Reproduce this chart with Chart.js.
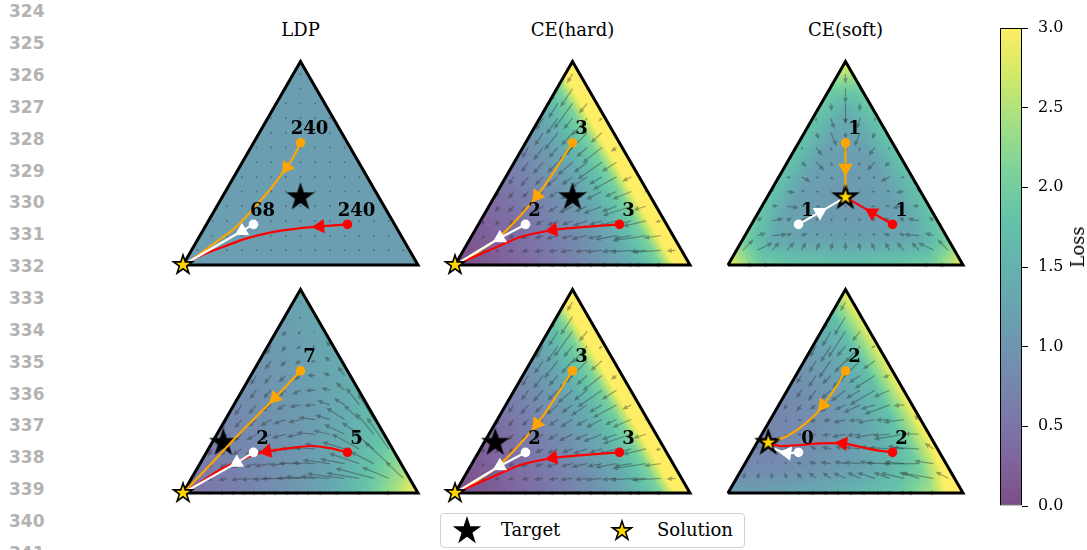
<!DOCTYPE html>
<html>
<head>
<meta charset="utf-8">
<title>Loss landscapes on the probability simplex</title>
<script src="https://cdn.jsdelivr.net/npm/chart.js@4.4.1/dist/chart.umd.min.js"></script>
<style>
  html, body { margin: 0; padding: 0; background: #fff; }
  #fig { position: relative; width: 1087px; height: 550px; overflow: hidden; background: #fff;
         font-family: "DejaVu Serif", serif; color: #000; }
  #fig canvas { position: absolute; }
  .lineno { position: absolute; left: 9px; height: 20px; line-height: 20px;
            font: bold 17px "DejaVu Sans", sans-serif; color: #b3b3b3; }
  .title { position: absolute; top: 19px; height: 22px; line-height: 22px; font-size: 18px;
           transform: translateX(-50%); white-space: nowrap; }
  #cbLabel { position: absolute; left: 1078px; top: 247px; font-size: 18px; line-height: 20px;
             transform: translate(-50%, -50%) rotate(-90deg); white-space: nowrap; }
  #legend { position: absolute; left: 440px; top: 513px; width: 305px; height: 35px; box-sizing: border-box;
            border: 1.5px solid #d0d0d0; border-radius: 4px; background: #fff; }
  #legend span { position: absolute; top: 5px; line-height: 22px; font-size: 18px; white-space: nowrap; }
  #legend canvas { position: absolute; }
</style>
</head>
<body>
<div id="fig"></div>
<script>
// ---------------------------------------------------------------------------
// Data
// ---------------------------------------------------------------------------
const methods = ['LDP', 'CE(hard)', 'CE(soft)'];
const lineNumbers = [324, 325, 326, 327, 328, 329, 330, 331, 332, 333, 334, 335, 336, 337, 338, 339, 340, 341];
const lossTicks = [0.0, 0.5, 1.0, 1.5, 2.0, 2.5, 3.0];
const lossMin = 0, lossMax = 3;
const legendLabels = ['Target', 'Solution'];

// simplex corners as probability vectors (p1, p2, p3)
const simplexCorners = [[1, 0, 0], [0, 1, 0], [0, 0, 1]];
const targetTop = [1 / 3, 1 / 3, 1 / 3];
const targetBottom = [0.705, 0.048, 0.247];
// panels: 0-2 top row (LDP, CE(hard), CE(soft)), 3-5 bottom row
const targets = [targetTop, targetTop, targetTop, targetBottom, targetBottom, targetBottom];
const solutions = [[1, 0, 0], [1, 0, 0], targetTop, [1, 0, 0], [1, 0, 0], targetBottom];

// Loss on a triangular lattice (8 subdivisions): row j has p3 = j/8,
// entries run from the p1 corner side (p2 = 0) to the p2 side.
const lossLDPTop = [
  [1.15, 1.15, 1.15, 1.15, 1.15, 1.15, 1.15, 1.15, 1.15],
  [1.15, 1.15, 1.15, 1.15, 1.15, 1.15, 1.15, 1.15],
  [1.15, 1.15, 1.15, 1.15, 1.15, 1.15, 1.15],
  [1.15, 1.15, 1.15, 1.15, 1.15, 1.15],
  [1.15, 1.15, 1.15, 1.15, 1.15],
  [1.15, 1.15, 1.15, 1.15],
  [1.15, 1.15, 1.15],
  [1.15, 1.15],
  [1.15]
];
const lossCEHardTop = [
  [0.00, 0.13, 0.29, 0.47, 0.69, 0.98, 1.39, 2.08, 4.00],
  [0.13, 0.29, 0.47, 0.69, 0.98, 1.39, 2.08, 4.00],
  [0.29, 0.47, 0.69, 0.98, 1.39, 2.08, 4.00],
  [0.47, 0.69, 0.98, 1.39, 2.08, 4.00],
  [0.69, 0.98, 1.39, 2.08, 4.00],
  [0.98, 1.39, 2.08, 4.00],
  [1.39, 2.08, 4.00],
  [2.08, 4.00],
  [4.00]
];
const lossCESoftTop = [
  [2.90, 2.05, 1.90, 1.84, 1.82, 1.84, 1.90, 2.05, 2.90],
  [2.05, 1.40, 1.26, 1.21, 1.21, 1.26, 1.40, 2.05],
  [1.90, 1.26, 1.12, 1.09, 1.12, 1.26, 1.90],
  [1.84, 1.21, 1.09, 1.09, 1.21, 1.84],
  [1.82, 1.21, 1.12, 1.21, 1.82],
  [1.84, 1.26, 1.26, 1.84],
  [1.90, 1.40, 1.90],
  [2.05, 2.05],
  [2.90]
];
const lossLDPBottom = [
  [0.45, 0.57, 0.70, 0.86, 1.08, 1.35, 1.74, 2.30, 3.00],
  [0.56, 0.67, 0.80, 0.97, 1.18, 1.46, 1.85, 2.40],
  [0.66, 0.78, 0.91, 1.07, 1.29, 1.57, 1.95],
  [0.77, 0.88, 1.02, 1.18, 1.39, 1.68],
  [0.88, 0.99, 1.12, 1.29, 1.50],
  [0.98, 1.10, 1.23, 1.40],
  [1.09, 1.20, 1.33],
  [1.19, 1.31],
  [1.30]
];
const lossCEHardBottom = [
  [0.00, 0.13, 0.29, 0.47, 0.69, 0.98, 1.39, 2.08, 4.00],
  [0.13, 0.29, 0.47, 0.69, 0.98, 1.39, 2.08, 4.00],
  [0.29, 0.47, 0.69, 0.98, 1.39, 2.08, 4.00],
  [0.47, 0.69, 0.98, 1.39, 2.08, 4.00],
  [0.69, 0.98, 1.39, 2.08, 4.00],
  [0.98, 1.39, 2.08, 4.00],
  [1.39, 2.08, 4.00],
  [2.08, 4.00],
  [4.00]
];
const lossCESoftBottom = [
  [1.17, 1.17, 1.25, 1.36, 1.50, 1.70, 1.97, 2.46, 3.74],
  [0.81, 0.83, 0.92, 1.06, 1.25, 1.53, 2.01, 3.30],
  [0.75, 0.79, 0.91, 1.09, 1.37, 1.85, 3.13],
  [0.77, 0.84, 1.01, 1.28, 1.76, 3.04],
  [0.86, 0.97, 1.23, 1.70, 2.98],
  [1.01, 1.21, 1.66, 2.94],
  [1.25, 1.65, 2.91],
  [1.71, 2.91],
  [2.96]
];
const lossGrids = [lossLDPTop, lossCEHardTop, lossCESoftTop, lossLDPBottom, lossCEHardBottom, lossCESoftBottom];

// Optimisation trajectories in simplex plane coordinates (x, y), one per panel.
const orangePaths = [
  [[0.5, 0.52], [0.468, 0.455], [0.441, 0.415], [0.379, 0.332], [0.306, 0.247], [0.221, 0.157], [0.123, 0.085], [0.03, 0.017], [0, 0]],
  [[0.5, 0.52], [0.426, 0.404], [0.349, 0.294], [0.277, 0.209], [0.179, 0.111], [0.085, 0.047], [0, 0]],
  [[0.5, 0.52], [0.5, 0.413], [0.5, 0.2887]],
  [[0.5, 0.52], [0.455, 0.472], [0.391, 0.404], [0.306, 0.319], [0.226, 0.238], [0.115, 0.119], [0, 0]],
  [[0.5, 0.52], [0.426, 0.404], [0.349, 0.294], [0.277, 0.209], [0.179, 0.111], [0.085, 0.047], [0, 0]],
  [[0.5, 0.52], [0.468, 0.464], [0.434, 0.413], [0.404, 0.374], [0.37, 0.332], [0.306, 0.277], [0.243, 0.238], [0.171, 0.214]]
];
const redPaths = [
  [[0.7, 0.173], [0.583, 0.164], [0.485, 0.155], [0.37, 0.138], [0.264, 0.111], [0.157, 0.072], [0.072, 0.038], [0, 0]],
  [[0.7, 0.173], [0.553, 0.162], [0.417, 0.149], [0.277, 0.119], [0.149, 0.064], [0, 0]],
  [[0.7, 0.173], [0.613, 0.223], [0.5, 0.2887]],
  [[0.7, 0.173], [0.626, 0.191], [0.54, 0.2], [0.455, 0.191], [0.357, 0.177], [0.285, 0.157], [0.157, 0.098], [0.051, 0.03], [0, 0]],
  [[0.7, 0.173], [0.553, 0.162], [0.417, 0.149], [0.277, 0.119], [0.149, 0.064], [0, 0]],
  [[0.7, 0.173], [0.604, 0.187], [0.489, 0.211], [0.391, 0.211], [0.306, 0.204], [0.221, 0.2], [0.171, 0.214]]
];
const whitePaths = [
  [[0.3, 0.173], [0.251, 0.145], [0, 0]],
  [[0.3, 0.173], [0.191, 0.115], [0, 0]],
  [[0.3, 0.173], [0.391, 0.225], [0.5, 0.2887]],
  [[0.3, 0.173], [0.229, 0.129], [0, 0]],
  [[0.3, 0.173], [0.191, 0.115], [0, 0]],
  [[0.3, 0.173], [0.251, 0.17], [0.2, 0.187], [0.171, 0.214]]
];
// index of the path vertex carrying the direction arrow
const orangeArrowAt = [2, 2, 1, 2, 2, 3];
const redArrowAt = [1, 2, 1, 4, 2, 2];
const whiteArrowAt = [1, 1, 1, 1, 1, 1];
// number of steps printed next to each starting point
const orangeSteps = [240, 3, 1, 7, 3, 2];
const redSteps = [240, 3, 1, 5, 3, 2];
const whiteSteps = [68, 2, 1, 2, 2, 0];

// ---------------------------------------------------------------------------
// Styling / layout
// ---------------------------------------------------------------------------
const SQ3 = Math.sqrt(3) / 2;
const SIDE = 235;       // px per unit side of the simplex
const PAD = 26;         // canvas margin around each simplex
const panelCorners = [[183, 265], [455, 265], [728, 265], [183, 493], [455, 493], [728, 493]];
const quiverGain = [0.1, 0.1, 0.12, 0.26, 0.1, 0.15];
const FIELD_ALPHA = 0.7;
const viridis = [
  [68, 1, 84], [72, 36, 117], [65, 68, 135], [53, 95, 141], [42, 120, 142], [33, 145, 140],
  [34, 168, 132], [68, 191, 112], [122, 209, 81], [189, 223, 38], [253, 231, 37]
];
const trajectories = [
  { color: '#ffa500', paths: orangePaths, arrowAt: orangeArrowAt, steps: orangeSteps },
  { color: '#ff0000', paths: redPaths, arrowAt: redArrowAt, steps: redSteps },
  { color: '#ffffff', paths: whitePaths, arrowAt: whiteArrowAt, steps: whiteSteps }
];

const toXY = p => ({ x: p[1] + p[2] / 2, y: p[2] * SQ3 });

function lossColor(v) {
  if (!Number.isFinite(v)) v = lossMin;
  const t = Math.max(0, Math.min(1, (v - lossMin) / (lossMax - lossMin))) * (viridis.length - 1);
  const i = Math.min(Math.floor(t), viridis.length - 2), f = t - i;
  const c0 = viridis[i], c1 = viridis[i + 1];
  return [0, 1, 2].map(k => Math.round((c0[k] + (c1[k] - c0[k]) * f) * FIELD_ALPHA + 255 * (1 - FIELD_ALPHA)));
}

// Gouraud shading of the lattice: linear within each small lattice triangle
function lossAt(rows, b, c) {
  const n = rows.length - 1;
  b = Math.max(0, Math.min(1, b)); c = Math.max(0, Math.min(1, c));
  if (b + c > 1) { const s = b + c; b /= s; c /= s; }
  const u = b * n, v = c * n;
  let i = Math.floor(u), j = Math.floor(v);
  if (j >= n) j = n - 1;
  if (j < 0) j = 0;
  if (i + j >= n) i = n - 1 - j;
  if (i < 0) i = 0;
  let fu = u - i, fv = v - j;
  if (fu + fv <= 1 || i + j >= n - 1) {
    const s = fu + fv;
    if (s > 1) { fu /= s; fv /= s; }
    return (1 - fu - fv) * rows[j][i] + fu * rows[j][i + 1] + fv * rows[j + 1][i];
  }
  return (fu + fv - 1) * rows[j + 1][i + 1] + (1 - fv) * rows[j][i + 1] + (1 - fu) * rows[j + 1][i];
}

function slope(rows, b, c, db, dc, h) {
  const inside = (bb, cc) => bb >= -1e-12 && cc >= -1e-12 && bb + cc <= 1 + 1e-12;
  let p1 = [b + db * h, c + dc * h], p0 = [b - db * h, c - dc * h];
  if (!inside(p1[0], p1[1])) p1 = [b, c];
  if (!inside(p0[0], p0[1])) p0 = [b, c];
  const d = (p1[0] - p0[0]) * db + (p1[1] - p0[1]) * dc;
  return d > 0 ? (lossAt(rows, p1[0], p1[1]) - lossAt(rows, p0[0], p0[1])) / d : 0;
}

function paintLoss(chart, rows) {
  const { left, top, right, bottom } = chart.chartArea;
  const xs = chart.scales.x, ys = chart.scales.y;
  const W = Math.round(right - left), H = Math.round(bottom - top);
  const off = document.createElement('canvas');
  off.width = W; off.height = H;
  const octx = off.getContext('2d');
  const img = octx.createImageData(W, H);
  for (let py = 0; py < H; py++) {
    const y = ys.getValueForPixel(top + py + 0.5);
    const c = y / SQ3;
    for (let px = 0; px < W; px++) {
      const x = xs.getValueForPixel(left + px + 0.5);
      const b = x - c / 2, a = 1 - b - c;
      if (a < -0.004 || b < -0.004 || c < -0.004) continue;
      const col = lossColor(lossAt(rows, b, c));
      const k = (py * W + px) * 4;
      img.data[k] = col[0]; img.data[k + 1] = col[1]; img.data[k + 2] = col[2]; img.data[k + 3] = 255;
    }
  }
  octx.putImageData(img, 0, 0);
  chart.ctx.drawImage(off, left, top);
}

// descent directions of the loss under the softmax parameterisation
function drawQuiver(chart, rows, gain) {
  const ctx = chart.ctx, xs = chart.scales.x, ys = chart.scales.y;
  const N = 16, h = 0.004, sw = 0.6, hwMax = 2.4, hlMax = 5.5;
  ctx.save();
  ctx.fillStyle = 'rgba(45,45,45,0.4)';
  for (let r = 0; r / N <= SQ3; r++) {
    const y = r / N;
    for (let k = 0; k <= N; k++) {
      const x = k / N;
      const c = y / SQ3, b = x - c / 2, a = 1 - b - c;
      if (a < -1e-9 || b < -1e-9 || c < -1e-9) continue;
      const gb = slope(rows, b, c, 1, 0, h), gc = slope(rows, b, c, 0, 1, h);
      const pg = b * gb + c * gc;
      const vb = -b * (gb - pg), vc = -c * (gc - pg);
      const vx = vb + vc / 2, vy = vc * SQ3;
      const X0 = xs.getPixelForValue(x), Y0 = ys.getPixelForValue(y);
      const X1 = xs.getPixelForValue(x + vx * gain), Y1 = ys.getPixelForValue(y + vy * gain);
      const dx = X1 - X0, dy = Y1 - Y0, len = Math.hypot(dx, dy);
      if (!Number.isFinite(len)) continue;
      ctx.beginPath();
      if (len < 1.2) {
        ctx.arc(X0, Y0, 1.0, 0, Math.PI * 2);
        ctx.fill();
        continue;
      }
      const ux = dx / len, uy = dy / len, nx = -uy, ny = ux;
      const hl = Math.min(hlMax, len * 0.75), hw = Math.min(hwMax, hl * 0.45);
      const bx = X1 - ux * hl, by = Y1 - uy * hl;
      ctx.moveTo(X0 + nx * sw, Y0 + ny * sw);
      ctx.lineTo(bx + nx * sw, by + ny * sw);
      ctx.lineTo(bx + nx * hw, by + ny * hw);
      ctx.lineTo(X1, Y1);
      ctx.lineTo(bx - nx * hw, by - ny * hw);
      ctx.lineTo(bx - nx * sw, by - ny * sw);
      ctx.lineTo(X0 - nx * sw, Y0 - ny * sw);
      ctx.closePath();
      ctx.fill();
    }
  }
  ctx.restore();
}

function drawStepLabels(chart, p) {
  const ctx = chart.ctx, xs = chart.scales.x, ys = chart.scales.y;
  ctx.save();
  ctx.font = 'bold 18px "DejaVu Serif"';
  ctx.fillStyle = '#000';
  ctx.textAlign = 'center';
  ctx.textBaseline = 'middle';
  trajectories.forEach(t => {
    const s = t.paths[p][0];
    ctx.fillText(String(t.steps[p]), xs.getPixelForValue(s[0]) + 9, ys.getPixelForValue(s[1]) - 13);
  });
  ctx.restore();
}

const simplexPlugin = {
  id: 'simplexField',
  beforeDatasetsDraw(chart, args, opts) {
    const rows = lossGrids[opts.panel];
    paintLoss(chart, rows);
    drawQuiver(chart, rows, quiverGain[opts.panel]);
  },
  afterDatasetsDraw(chart, args, opts) {
    drawStepLabels(chart, opts.panel);
  }
};

function starCanvas(R, fill, stroke, lw) {
  const s = Math.ceil(2 * R + lw + 4);
  const cv = document.createElement('canvas');
  cv.width = s; cv.height = s;
  const c = cv.getContext('2d');
  c.beginPath();
  for (let k = 0; k < 10; k++) {
    const ang = -Math.PI / 2 + k * Math.PI / 5;
    const r = k % 2 === 0 ? R : R * 0.381966;
    const px = s / 2 + r * Math.cos(ang), py = s / 2 + r * Math.sin(ang);
    if (k === 0) c.moveTo(px, py); else c.lineTo(px, py);
  }
  c.closePath();
  c.fillStyle = fill;
  c.fill();
  if (lw > 0) { c.lineWidth = lw; c.strokeStyle = stroke; c.lineJoin = 'miter'; c.stroke(); }
  return cv;
}
const targetStar = starCanvas(15, '#000000', '#000000', 0);
const solutionStar = starCanvas(10, '#ffd700', '#000000', 1.6);

// ---------------------------------------------------------------------------
// Page
// ---------------------------------------------------------------------------
const fig = document.getElementById('fig');

lineNumbers.forEach((n, k) => {
  const d = document.createElement('div');
  d.className = 'lineno';
  d.style.top = (11.2 + 31.86 * k - 10) + 'px';
  d.textContent = n;
  fig.appendChild(d);
});

methods.forEach((m, k) => {
  const d = document.createElement('div');
  d.className = 'title';
  d.style.left = (panelCorners[k][0] + SIDE / 2) + 'px';
  d.textContent = m;
  fig.appendChild(d);
});

function panelDatasets(p) {
  const sets = [];
  sets.push({
    data: simplexCorners.concat([simplexCorners[0]]).map(q => toXY(q)),
    showLine: true, borderColor: '#000', borderWidth: 3, borderJoinStyle: 'miter',
    pointRadius: 0, order: 30, clip: false
  });
  sets.push({ data: [toXY(targets[p])], pointStyle: targetStar, pointRadius: 12, order: 25, clip: false });
  trajectories.forEach((t, k) => {
    const path = t.paths[p];
    const ai = t.arrowAt[p];
    const prev = path[ai - 1], next = path[Math.min(ai + 1, path.length - 1)];
    sets.push({
      data: path.map(q => ({ x: q[0], y: q[1] })),
      showLine: true, borderColor: t.color, borderWidth: 2.2, pointRadius: 0, tension: 0.2,
      borderCapStyle: 'round', order: 20 - k, clip: false
    });
    sets.push({
      data: [{ x: path[0][0], y: path[0][1] }],
      pointRadius: 4.8, backgroundColor: t.color, borderWidth: 0, order: 15 - k, clip: false
    });
    sets.push({
      data: [{ x: path[ai][0], y: path[ai][1] }],
      pointStyle: 'triangle', pointRadius: 8.3, backgroundColor: t.color, borderWidth: 0,
      order: 15 - k, clip: false,
      rotation: ctx => {
        const xs = ctx.chart.scales.x, ys = ctx.chart.scales.y;
        if (!xs || !ys) return 0;
        const dx = xs.getPixelForValue(next[0]) - xs.getPixelForValue(prev[0]);
        const dy = ys.getPixelForValue(next[1]) - ys.getPixelForValue(prev[1]);
        return Math.atan2(dx, -dy) * 180 / Math.PI;
      }
    });
  });
  sets.push({ data: [toXY(solutions[p])], pointStyle: solutionStar, pointRadius: 9, order: 1, clip: false });
  return sets;
}

panelCorners.forEach(([ox, oy], p) => {
  const top = Math.round(oy - SQ3 * SIDE - PAD);
  const W = SIDE + 2 * PAD, H = oy + PAD - top;
  const cv = document.createElement('canvas');
  cv.width = W; cv.height = H;
  cv.style.left = (ox - PAD) + 'px';
  cv.style.top = top + 'px';
  cv.style.width = W + 'px';
  cv.style.height = H + 'px';
  fig.appendChild(cv);
  new Chart(cv, {
    type: 'scatter',
    data: { datasets: panelDatasets(p) },
    options: {
      responsive: false, animation: false, devicePixelRatio: 1, events: [],
      layout: { padding: 0, autoPadding: false },
      plugins: { legend: { display: false }, tooltip: { enabled: false }, simplexField: { panel: p } },
      scales: {
        x: { type: 'linear', display: false, bounds: 'data', min: -PAD / SIDE, max: (W - PAD) / SIDE },
        y: { type: 'linear', display: false, bounds: 'data', min: -PAD / SIDE, max: (oy - top) / SIDE }
      }
    },
    plugins: [simplexPlugin]
  });
});

// colour bar
(function () {
  const cv = document.createElement('canvas');
  const W = 87, H = 502;
  cv.width = W; cv.height = H;
  cv.style.left = '1000px'; cv.style.top = '16px';
  cv.style.width = W + 'px'; cv.style.height = H + 'px';
  fig.appendChild(cv);
  new Chart(cv, {
    type: 'bar',
    data: {
      labels: ['Loss'],
      datasets: [{
        data: [[lossMin, lossMax]],
        backgroundColor: ctx => {
          const ch = ctx.chart;
          if (!ch.chartArea) return '#888';
          const ys = ch.scales.y;
          const g = ch.ctx.createLinearGradient(0, ys.getPixelForValue(lossMin), 0, ys.getPixelForValue(lossMax));
          viridis.forEach((c, i) => {
            const t = i / (viridis.length - 1);
            const col = lossColor(lossMin + t * (lossMax - lossMin));
            g.addColorStop(t, `rgb(${col[0]},${col[1]},${col[2]})`);
          });
          return g;
        },
        borderColor: '#000', borderWidth: 1, borderSkipped: false,
        barPercentage: 1, categoryPercentage: 1, inflateAmount: 0
      }]
    },
    options: {
      responsive: false, animation: false, devicePixelRatio: 1, events: [],
      layout: { padding: { top: 12, bottom: 12, left: 0, right: 0 }, autoPadding: false },
      plugins: { legend: { display: false }, tooltip: { enabled: false } },
      scales: {
        x: { display: false },
        y: {
          position: 'right', min: lossMin, max: lossMax,
          afterBuildTicks: s => { s.ticks = lossTicks.map(v => ({ value: v })); },
          afterFit: s => { s.width = 65; s.paddingTop = 0; s.paddingBottom = 0; },
          ticks: {
            callback: v => Number(v).toFixed(1), color: '#000', padding: 10,
            font: { family: 'DejaVu Serif', size: 16 }
          },
          grid: { drawOnChartArea: false, drawTicks: true, tickLength: 6, color: '#000', lineWidth: 1 },
          border: { display: false }
        }
      }
    }
  });
  const lab = document.createElement('div');
  lab.id = 'cbLabel';
  lab.textContent = 'Loss';
  fig.appendChild(lab);
})();

// legend
(function () {
  const box = document.createElement('div');
  box.id = 'legend';
  const stars = [targetStar, solutionStar];
  const starX = [26, 181], textX = [60, 216];
  legendLabels.forEach((txt, k) => {
    const src = stars[k];
    const c = document.createElement('canvas');
    c.width = src.width; c.height = src.height;
    c.getContext('2d').drawImage(src, 0, 0);
    c.style.left = (starX[k] - src.width / 2) + 'px';
    c.style.top = (16.5 - src.height / 2) + 'px';
    box.appendChild(c);
    const s = document.createElement('span');
    s.style.left = textX[k] + 'px';
    s.textContent = txt;
    box.appendChild(s);
  });
  fig.appendChild(box);
})();
</script>
</body>
</html>
